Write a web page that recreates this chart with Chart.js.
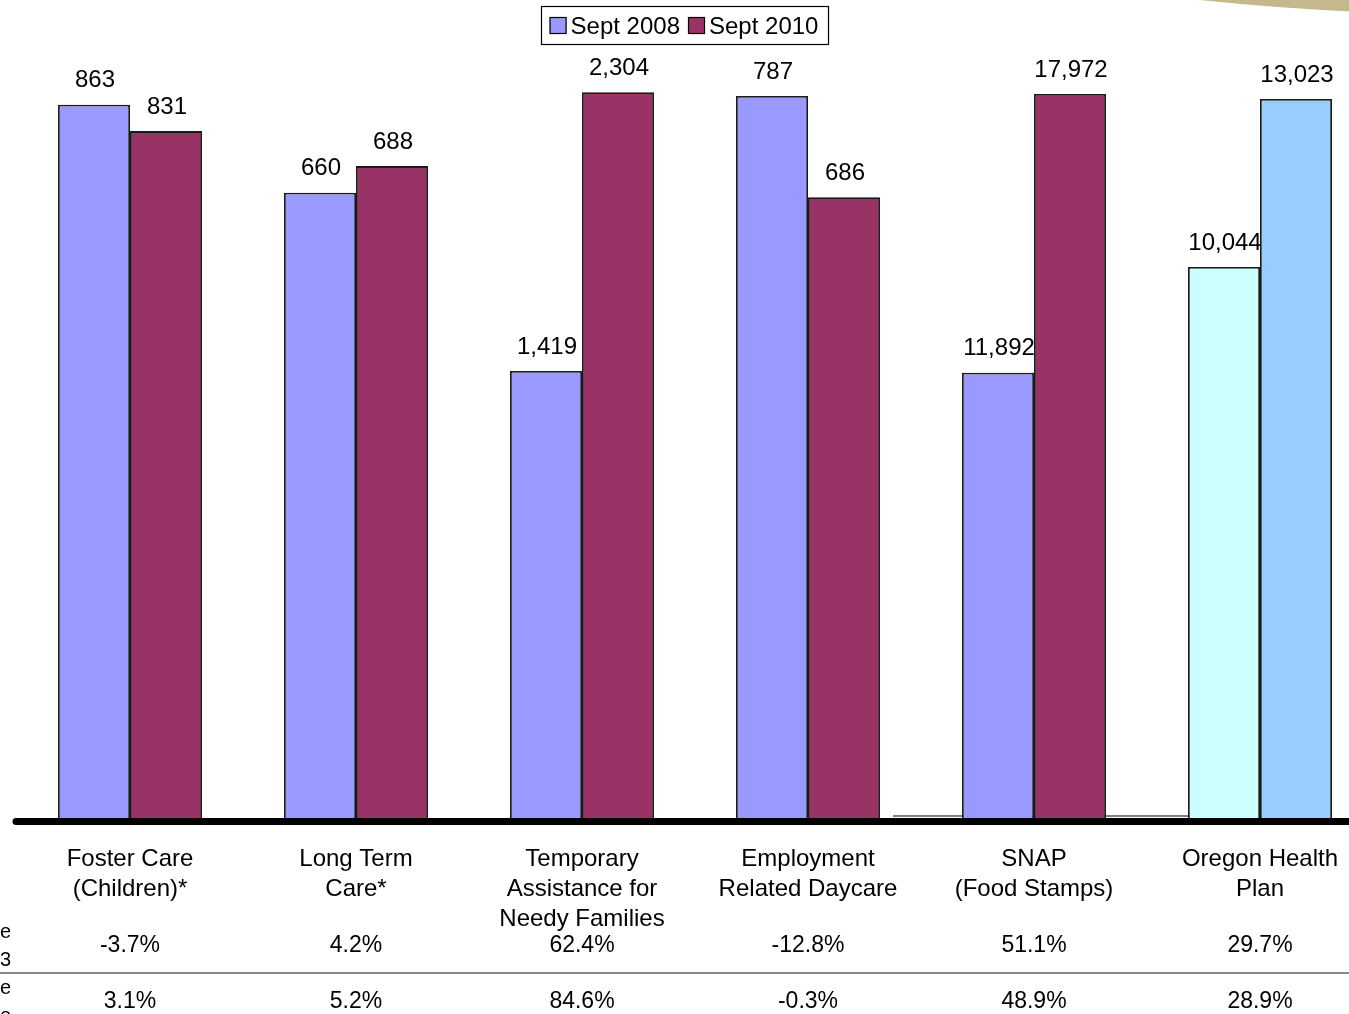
<!DOCTYPE html>
<html lang="en">
<head>
    <meta charset="UTF-8">
    <title>Caseload Sept 2008 vs Sept 2010</title>
    <script src="https://cdn.jsdelivr.net/npm/chart.js"></script>
    <style>
        body {
            margin: 0;
            background: #fff;
            overflow: hidden;
        }
        canvas {
            display: block;
        }
    </style>
</head>
<body>
    <canvas id="caseChart" width="1380" height="1014" style="width:1380px;height:1014px"></canvas>

    <script>
        // categories (multi-line tick labels)
        const categories = [
            ['Foster Care', '(Children)*'],
            ['Long Term', 'Care*'],
            ['Temporary', 'Assistance for', 'Needy Families'],
            ['Employment', 'Related Daycare'],
            ['SNAP', '(Food Stamps)'],
            ['Oregon Health', 'Plan']
        ];
        const sept2008 = [863, 660, 1419, 787, 11892, 10044];
        const sept2010 = [831, 688, 2304, 686, 17972, 13023];

        // every group sits on its own value axis in the original
        const groupAxisMin = [0, 0, 0, 66, 2179, 270];
        const groupAxisMax = [917, 800, 2406, 823, 18714, 13715];

        const changeRow1 = ['-3.7%', '4.2%', '62.4%', '-12.8%', '51.1%', '29.7%'];
        const changeRow2 = ['3.1%', '5.2%', '84.6%', '-0.3%', '48.9%', '28.9%'];

        const FONT = '"Liberation Sans", Arial, sans-serif';

        // position of a value inside its group's own axis (0..1)
        function toGroupScale(values) {
            return values.map((v, i) => (v - groupAxisMin[i]) / (groupAxisMax[i] - groupAxisMin[i]));
        }

        const overlay = {
            id: 'overlay',
            beforeDatasetsDraw(chart) {
                const ctx = chart.ctx;
                const area = chart.chartArea;
                // thin line behind the right-hand groups
                ctx.save();
                ctx.strokeStyle = '#555';
                ctx.lineWidth = 1.5;
                ctx.beginPath();
                ctx.moveTo(893, area.bottom - 2);
                ctx.lineTo(1195, area.bottom - 2);
                ctx.stroke();
                ctx.restore();
            },
            afterDatasetsDraw(chart) {
                const ctx = chart.ctx;
                const area = chart.chartArea;
                ctx.save();

                // thick base line
                ctx.strokeStyle = '#000';
                ctx.lineWidth = 7;
                ctx.lineCap = 'round';
                ctx.beginPath();
                ctx.moveTo(16, area.bottom + 3.5);
                ctx.lineTo(1400, area.bottom + 3.5);
                ctx.stroke();

                // value labels above the bars
                ctx.fillStyle = '#000';
                ctx.font = '24px ' + FONT;
                ctx.textAlign = 'center';
                ctx.textBaseline = 'middle';
                chart.data.datasets.forEach((ds, di) => {
                    const meta = chart.getDatasetMeta(di);
                    meta.data.forEach((bar, i) => {
                        ctx.fillText(ds.raw[i].toLocaleString('en-US'), bar.x + 1, bar.y - 24);
                    });
                });
                ctx.restore();
            },
            afterDraw(chart) {
                const ctx = chart.ctx;
                const xScale = chart.scales.x;
                ctx.save();

                // legend with frame
                ctx.font = '24px ' + FONT;
                ctx.textBaseline = 'middle';
                const items = chart.data.datasets.map(ds => ({
                    label: ds.label,
                    color: ds.backgroundColor[0],
                    w: ctx.measureText(ds.label).width
                }));
                const box = 17, gap = 4, itemGap = 8, pad = 9;
                let total = pad * 2 + itemGap * (items.length - 1);
                items.forEach(it => { total += box + gap + it.w; });
                let lx = 684 - total / 2;
                ctx.strokeStyle = '#000';
                ctx.lineWidth = 1.2;
                ctx.strokeRect(Math.round(lx) + 0.5, 6.5, Math.round(total), 38);
                lx += pad;
                items.forEach(it => {
                    ctx.fillStyle = it.color;
                    ctx.fillRect(lx, 17, box, box);
                    ctx.strokeRect(lx + 0.5, 17.5, box - 1, box - 1);
                    ctx.fillStyle = '#000';
                    ctx.textAlign = 'left';
                    ctx.fillText(it.label, lx + box + gap, 27);
                    lx += box + gap + it.w + itemGap;
                });

                // change table under the chart
                ctx.font = '23px ' + FONT;
                ctx.textAlign = 'center';
                ctx.fillStyle = '#000';
                changeRow1.forEach((t, i) => {
                    ctx.fillText(t, xScale.getPixelForValue(i), 946);
                });
                changeRow2.forEach((t, i) => {
                    ctx.fillText(t, xScale.getPixelForValue(i), 1002);
                });
                ctx.strokeStyle = '#888';
                ctx.lineWidth = 2;
                ctx.beginPath();
                ctx.moveTo(0, 973);
                ctx.lineTo(1380, 973);
                ctx.stroke();

                // clipped row captions at the left edge
                ctx.font = '20px ' + FONT;
                ctx.textAlign = 'right';
                ctx.fillText('e', 11, 932);
                ctx.fillText('3', 11, 960);
                ctx.fillText('e', 11, 988);
                ctx.fillText('e', 11, 1016);

                // decorative swoosh, top right
                ctx.fillStyle = '#c3b98d';
                ctx.beginPath();
                ctx.moveTo(1200, 0);
                ctx.quadraticCurveTo(1275, 8, 1360, 12);
                ctx.lineTo(1360, 0);
                ctx.closePath();
                ctx.fill();

                ctx.restore();
            }
        };

        new Chart(document.getElementById('caseChart'), {
            type: 'bar',
            data: {
                labels: categories,
                datasets: [
                    {
                        label: 'Sept 2008',
                        raw: sept2008,
                        data: toGroupScale(sept2008),
                        backgroundColor: ['#9999ff', '#9999ff', '#9999ff', '#9999ff', '#9999ff', '#ccffff'],
                        borderColor: '#1a1a1a',
                        borderWidth: 1.8
                    },
                    {
                        label: 'Sept 2010',
                        raw: sept2010,
                        data: toGroupScale(sept2010),
                        backgroundColor: ['#993366', '#993366', '#993366', '#993366', '#993366', '#99ccff'],
                        borderColor: '#1a1a1a',
                        borderWidth: 1.8
                    }
                ]
            },
            options: {
                responsive: false,
                devicePixelRatio: 1,
                animation: false,
                categoryPercentage: 0.637,
                barPercentage: 1,
                layout: {
                    padding: { left: 17, right: 7, top: 60, bottom: 0 }
                },
                plugins: {
                    legend: { display: false },
                    tooltip: { enabled: false }
                },
                scales: {
                    x: {
                        grid: { display: false, drawTicks: false },
                        border: { display: false },
                        ticks: {
                            color: '#000',
                            font: { family: FONT, size: 24, lineHeight: 1.25 },
                            padding: 26,
                            autoSkip: false,
                            maxRotation: 0
                        },
                        afterFit(scale) {
                            scale.height = 196;
                        }
                    },
                    y: {
                        display: false,
                        min: 0,
                        max: 1
                    }
                }
            },
            plugins: [overlay]
        });
    </script>
</body>
</html>
